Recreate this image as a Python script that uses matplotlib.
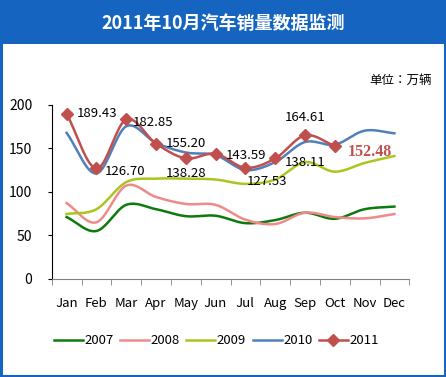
import numpy as np
import matplotlib.pyplot as plt
from matplotlib.patches import Rectangle

plt.rcParams['font.family'] = ['Noto Sans CJK JP', 'DejaVu Sans']

months = ['Jan', 'Feb', 'Mar', 'Apr', 'May', 'Jun', 'Jul', 'Aug', 'Sep', 'Oct', 'Nov', 'Dec']
sales_2007 = [71, 55, 85, 80, 72, 72.5, 64, 67.5, 76, 69, 80, 83]
sales_2008 = [87, 65, 107, 94, 86, 85, 68, 63, 76, 71, 69.5, 74.5]
sales_2009 = [74.5, 80, 111, 115, 115, 114, 109, 114, 134, 123, 133, 141]
sales_2010 = [167.5, 121, 175, 156, 145, 142, 125, 134, 157, 154, 170, 167]
sales_2011 = [189.43, 126.70, 182.85, 155.20, 138.28, 143.59, 127.53, 138.11, 164.61, 152.48]

title = '2011年10月汽车销量数据监测'
unit = '单位：万辆'


def smooth(y, n=20):
    """Catmull-Rom curve through the points, like a smoothed line chart"""
    y = np.asarray(y, dtype=float)
    x = np.arange(len(y), dtype=float)
    p = np.concatenate([[2 * y[0] - y[1]], y, [2 * y[-1] - y[-2]]])
    xs, ys = [], []
    for i in range(len(y) - 1):
        t = np.linspace(0, 1, n, endpoint=False)
        p0, p1, p2, p3 = p[i], p[i + 1], p[i + 2], p[i + 3]
        v = 0.5 * ((2 * p1) + (-p0 + p2) * t + (2 * p0 - 5 * p1 + 4 * p2 - p3) * t ** 2
                   + (-p0 + 3 * p1 - 3 * p2 + p3) * t ** 3)
        xs.append(x[i] + t)
        ys.append(v)
    xs.append([x[-1]])
    ys.append([y[-1]])
    return np.concatenate(xs), np.concatenate(ys)


fig = plt.figure(figsize=(4.46, 3.77), dpi=100)
fig.patch.set_facecolor('white')

# title bar and frame
fig.patches.append(Rectangle((0, 1 - 44 / 377), 1, 44 / 377, transform=fig.transFigure,
                             facecolor='#1565C0', edgecolor='none', zorder=0))
fig.patches.append(Rectangle((0.002, 0.003), 0.995, 0.99, transform=fig.transFigure,
                             facecolor='none', edgecolor='#1565C0', lw=2.2, zorder=0))
fig.text(0.5, 1 - 23 / 377, title, color='white', fontsize=13, fontweight='bold',
         ha='center', va='center')
fig.text(0.968, 1 - 80 / 377, unit, fontsize=9, ha='right', va='center')

ax = fig.add_axes([51.7 / 446, 98 / 377, 357.6 / 446, 174.5 / 377])
colors = {'2007': '#0E7A0E', '2008': '#F08A8A', '2009': '#A9C61E', '2010': '#5080BC', '2011': '#C0504D'}
series = [('2007', sales_2007), ('2008', sales_2008), ('2009', sales_2009), ('2010', sales_2010)]
for name, vals in series:
    sx, sy = smooth(vals)
    ax.plot(sx, sy, color=colors[name], lw=1.8, label=name)

sx, sy = smooth(sales_2011)
ax.plot(sx, sy, color=colors['2011'], lw=1.8, zorder=5)
ax.plot(range(len(sales_2011)), sales_2011, ls='none', marker='D', ms=6.5, color=colors['2011'], zorder=6)
ax.plot([], [], color=colors['2011'], lw=1.8, marker='D', ms=6, label='2011')

offsets = [(7, 0, 'left'), (6, -2, 'left'), (5, -2, 'left'),
           (7, 0, 'left'), (0, -11, 'center'), (7, -1, 'left'),
           (1, -10, 'left'), (7, -3, 'left'), (0, 13, 'center'),
           (9, -4, 'left')]
for i, v in enumerate(sales_2011):
    dx, dy, ha = offsets[i]
    if i == len(sales_2011) - 1:
        ax.annotate(f'{v:.2f}', (i, v), xytext=(dx, dy), textcoords='offset points', ha=ha, va='center',
                    fontsize=11.5, fontweight='bold', family='Liberation Serif', color=colors['2011'], zorder=7)
    else:
        ax.annotate(f'{v:.2f}', (i, v), xytext=(dx, dy), textcoords='offset points', ha=ha, va='center',
                    fontsize=9.5, color='black', zorder=7)

ax.set_xlim(-0.5, 11.5)
ax.set_ylim(0, 200)
ax.set_yticks([0, 50, 100, 150, 200])
ax.set_xticks(range(12))
ax.set_xticklabels(months)
ax.set_xticks(np.arange(-0.5, 12, 1), minor=True)
ax.tick_params(axis='x', which='major', length=0, pad=13, labelsize=9.5)
ax.tick_params(axis='x', which='minor', length=4, color='#808080', direction='out')
ax.tick_params(axis='y', length=3, labelsize=10, pad=11)
ax.spines['top'].set_visible(False)
ax.spines['right'].set_visible(False)
ax.spines['bottom'].set_color('#808080')
ax.spines['left'].set_color('black')

fig.legend(loc='center', bbox_to_anchor=(0.485, 1 - 341 / 377), ncol=5, frameon=False,
           fontsize=9.5, handlelength=2.2, handletextpad=0.1, columnspacing=0.5)

fig.savefig('out.png', dpi=100)
